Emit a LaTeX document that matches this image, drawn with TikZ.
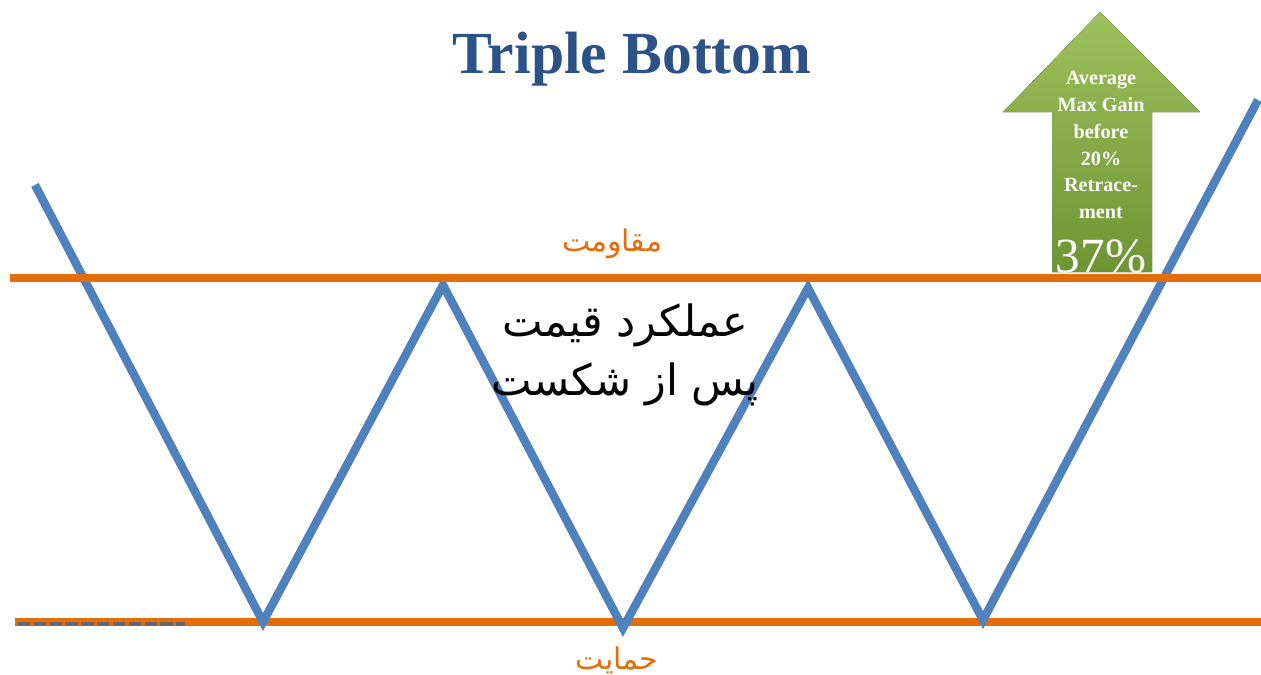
\documentclass[tikz,border=0pt]{standalone}
\usepackage{fontspec}
\setmainfont{Liberation Serif}
\newfontfamily\farsifont[Script=Arabic]{DejaVu Sans}
\TeXXeTstate=1
\definecolor{chartblue}{RGB}{79,129,189}
\definecolor{levelorange}{RGB}{228,108,10}
\definecolor{titleblue}{RGB}{44,82,135}
\definecolor{gaintop}{RGB}{158,192,92}
\definecolor{gainbottom}{RGB}{110,148,52}
\tikzstyle{price} = [
    line width=4.8pt,
    draw=chartblue
]
\tikzstyle{level} = [
    line width=4.6pt,
    draw=levelorange
]
\tikzstyle{levellabel} = [
    text=levelorange,
    font=\farsifont\fontsize{17}{20}\selectfont
]
\tikzstyle{gainarrow} = [
    top color=gaintop,
    bottom color=gainbottom,
    draw=none
]
\tikzstyle{gaintext} = [
    text=white,
    align=center,
    font=\bfseries\fontsize{11.5}{15.3}\selectfont
]

\begin{document}
\begin{tikzpicture}[x=0.02cm, y=-0.02cm]

\useasboundingbox (0,0) rectangle (1261,674);

% price path
\coordinate (start) at (35,185);
\coordinate (low1) at (263,622);
\coordinate (high1) at (443,285);
\coordinate (low2) at (623,628);
\coordinate (high2) at (808,288);
\coordinate (low3) at (983,620);
\coordinate (break) at (1258,100);

% support
\draw [level] (15,622) -- (1261,622);
\draw [line width=2pt, draw=black!60, dash pattern=on 7pt off 2pt]
    (18,624) -- (185,624);

\draw [price] (start) -- (low1) -- (high1) -- (low2) -- (high2) -- (low3) -- (break);

% gain arrow
\fill [gainarrow] (1052,272) -- (1052,112) -- (1003,112) -- (1100,12)
    -- (1200,112) -- (1152,112) -- (1152,272) -- cycle;

% resistance
\draw [level] (10,278) -- (1261,278);

\node (title) at (632,59) [text=titleblue, font=\bfseries\fontsize{34}{40}\selectfont] {Triple Bottom};

\node (gain) at (1101,145) [gaintext] {Average\\Max Gain\\before\\20\%\\Retrace-\\ment};
\node (pct) at (1101,256) [text=white, font=\fontsize{28}{30}\selectfont] {37\%};

\node (resist) at (612,244) [levellabel] {\beginR مقاومت\endR};
\node (support) at (617,660) [levellabel] {\beginR حمایت\endR};

\node (after) at (625,355) [align=center, font=\farsifont\fontsize{24.5}{34}\selectfont]
    {\beginR عملکرد قیمت\endR\\\beginR پس از شکست\endR};

\end{tikzpicture}
\end{document}
